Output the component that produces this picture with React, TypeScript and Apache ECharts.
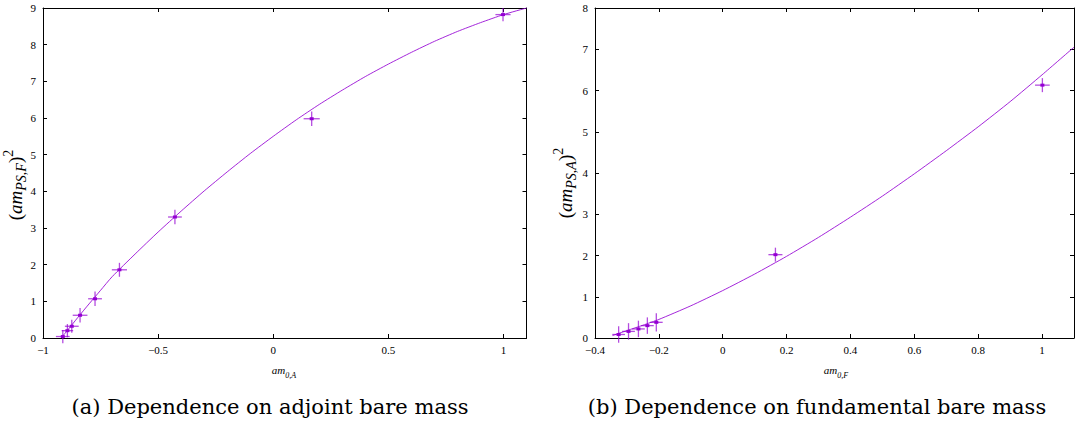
import React, { useEffect, useRef } from "react";
import * as echarts from "echarts";

// ---- Left panel: (am_PS,F)^2 vs am_0,A ----
const leftX = [-0.914, -0.894, -0.875, -0.839, -0.774, -0.668, -0.427, 0.167, 0.998];
const leftY = [0.04, 0.2, 0.32, 0.62, 1.07, 1.86, 3.3, 5.98, 8.82];
const leftXErr = [0.03, 0.025, 0.03, 0.032, 0.03, 0.033, 0.03, 0.035, 0.033];
const leftYErr = [0.18, 0.18, 0.18, 0.2, 0.2, 0.19, 0.2, 0.2, 0.18];
const leftFitX = [-0.918, -0.9, -0.85, -0.8, -0.75, -0.7, -0.6, -0.5, -0.4, -0.3, -0.2, -0.1, 0, 0.1, 0.2, 0.3, 0.4, 0.5, 0.6, 0.7, 0.8, 0.9, 1.0, 1.1];
const leftFitY = [0.03, 0.16, 0.55, 0.93, 1.3, 1.67, 2.29, 2.89, 3.46, 4.01, 4.53, 5.03, 5.5, 5.95, 6.37, 6.76, 7.13, 7.47, 7.79, 8.09, 8.36, 8.6, 8.82, 9.0];

// ---- Right panel: (am_PS,A)^2 vs am_0,F ----
const rightX = [-0.326, -0.295, -0.264, -0.236, -0.208, 0.165, 1.001];
const rightY = [0.085, 0.16, 0.22, 0.3, 0.38, 2.02, 6.13];
const rightXErr = [0.02, 0.02, 0.02, 0.02, 0.02, 0.022, 0.023];
const rightYErr = [0.2, 0.2, 0.2, 0.2, 0.22, 0.17, 0.17];
const rightFitX = [-0.345, -0.3, -0.25, -0.2, -0.1, 0, 0.1, 0.2, 0.3, 0.4, 0.5, 0.6, 0.7, 0.8, 0.9, 1.0, 1.1];
const rightFitY = [0.06, 0.18, 0.31, 0.45, 0.78, 1.15, 1.55, 1.98, 2.44, 2.93, 3.44, 3.98, 4.54, 5.12, 5.73, 6.38, 7.05];

const captions = ["(a) Dependence on adjoint bare mass", "(b) Dependence on fundamental bare mass"];

const PURPLE = "#9400d3";
const SERIF = "Liberation Serif";
const CAPFONT = "DejaVu Serif";

const fmt = (v: number, step: number) => {
  const k = v / step;
  if (Math.abs(k - Math.round(k)) > 1e-6) return "";
  const n = Number(v.toFixed(2));
  return n < 0 ? "\u2212" + String(-n) : String(n);
};

function xAxisPair(grid: number, min: number, max: number, interval: number) {
  const common = {
    type: "value",
    gridIndex: grid,
    min,
    max,
    interval,
    splitLine: { show: false },
    axisLine: { show: true, onZero: false, lineStyle: { color: "#000", width: 1 } },
    axisTick: { show: true, inside: true, length: 4, lineStyle: { color: "#000" } },
  };
  return [
    {
      ...common,
      position: "bottom",
      axisLabel: {
        color: "#000",
        fontFamily: SERIF,
        fontSize: 11,
        margin: 6,
        formatter: (v: number) => fmt(v, interval),
      },
    },
    { ...common, position: "top", axisLabel: { show: false } },
  ];
}

function yAxisPair(grid: number, min: number, max: number, interval: number) {
  const common = {
    type: "value",
    gridIndex: grid,
    min,
    max,
    interval,
    splitLine: { show: false },
    axisLine: { show: true, onZero: false, lineStyle: { color: "#000", width: 1 } },
    axisTick: { show: true, inside: true, length: 4, lineStyle: { color: "#000" } },
  };
  return [
    {
      ...common,
      position: "left",
      axisLabel: {
        color: "#000",
        fontFamily: SERIF,
        fontSize: 11,
        margin: 7,
        formatter: (v: number) => fmt(v, interval),
      },
    },
    { ...common, position: "right", axisLabel: { show: false } },
  ];
}

function errSeries(xi: number, yi: number, xs: number[], ys: number[], dxs: number[], dys: number[]) {
  return {
    type: "custom",
    xAxisIndex: xi,
    yAxisIndex: yi,
    z: 3,
    encode: { x: 0, y: 1 },
    data: xs.map((x, i) => [x, ys[i], dxs[i], dys[i]]),
    renderItem: (_params: any, api: any) => {
      const x = api.value(0);
      const y = api.value(1);
      const dx = api.value(2);
      const dy = api.value(3);
      const l = api.coord([x - dx, y]);
      const r = api.coord([x + dx, y]);
      const t = api.coord([x, y + dy]);
      const b = api.coord([x, y - dy]);
      const c = api.coord([x, y]);
      return {
        type: "group",
        children: [
          { type: "line", shape: { x1: l[0], y1: l[1], x2: r[0], y2: r[1] }, style: { stroke: PURPLE, lineWidth: 1.3, opacity: 0.7 } },
          { type: "line", shape: { x1: b[0], y1: b[1], x2: t[0], y2: t[1] }, style: { stroke: PURPLE, lineWidth: 1.3, opacity: 0.7 } },
          { type: "rect", shape: { x: c[0] - 2, y: c[1] - 1.5, width: 4, height: 3 }, style: { fill: PURPLE } },
        ],
      };
    },
  };
}

function fitSeries(xi: number, yi: number, xs: number[], ys: number[]) {
  return {
    type: "line",
    xAxisIndex: xi,
    yAxisIndex: yi,
    z: 2,
    showSymbol: false,
    smooth: 0.2,
    data: xs.map((x, i) => [x, ys[i]]),
    lineStyle: { color: PURPLE, width: 1, opacity: 0.85 },
    itemStyle: { color: PURPLE },
  };
}

function mathText(x: number, y: number, text: string, big: number, small: number, rotate: boolean) {
  const base = { fontFamily: SERIF, fill: "#000" };
  return {
    type: "text",
    x,
    y,
    rotation: rotate ? Math.PI / 2 : 0,
    style: {
      text,
      fontFamily: SERIF,
      fontSize: big,
      rich: {
        m: { ...base, fontStyle: "italic", fontSize: big, lineHeight: big + 8 },
        r: { ...base, fontSize: big, lineHeight: big + 8 },
        s: { ...base, fontStyle: "italic", fontSize: small, lineHeight: small + 1, verticalAlign: "bottom" },
        p: { ...base, fontSize: small, lineHeight: small + 1, verticalAlign: "top" },
      },
      align: "center",
      verticalAlign: "middle",
      fill: "#000",
    },
  };
}

export default function App() {
  const ref = useRef<HTMLDivElement>(null);
  useEffect(() => {
    if (!ref.current) return;
    const chart = echarts.init(ref.current, undefined, { renderer: "svg" });
    chart.setOption({
      animation: false,
      backgroundColor: "#fff",
      grid: [
        { left: 43, top: 8, width: 483.5, height: 330, containLabel: false },
        { left: 595, top: 8, width: 482, height: 330, containLabel: false },
      ],
      xAxis: [...xAxisPair(0, -1, 1.1, 0.5), ...xAxisPair(1, -0.4, 1.1, 0.2)],
      yAxis: [...yAxisPair(0, 0, 9, 1), ...yAxisPair(1, 0, 8, 1)],
      series: [
        fitSeries(0, 0, leftFitX, leftFitY),
        errSeries(0, 0, leftX, leftY, leftXErr, leftYErr),
        fitSeries(2, 2, rightFitX, rightFitY),
        errSeries(2, 2, rightX, rightY, rightXErr, rightYErr),
      ],
      graphic: [
        mathText(15, 185, "{r|(}{m|am}{s|PS,F}{r|)}{p|2}", 19, 14, true),
        mathText(565, 183, "{r|(}{m|am}{s|PS,A}{r|)}{p|2}", 19, 14, true),
        mathText(284, 370, "{m|am}{s|0,A}", 11, 8, false),
        mathText(836, 370, "{m|am}{s|0,F}", 11, 8, false),
        {
          type: "text",
          x: 270,
          y: 407,
          style: { text: captions[0], fontFamily: CAPFONT, fontSize: 21, fill: "#000", align: "center", verticalAlign: "middle" },
        },
        {
          type: "text",
          x: 817,
          y: 407,
          style: { text: captions[1], fontFamily: CAPFONT, fontSize: 21, fill: "#000", align: "center", verticalAlign: "middle" },
        },
      ],
    });
    return () => chart.dispose();
  }, []);
  return <div ref={ref} style={{ position: "fixed", left: 0, top: 0, width: 1077, height: 421, background: "#fff" }} />;
}
